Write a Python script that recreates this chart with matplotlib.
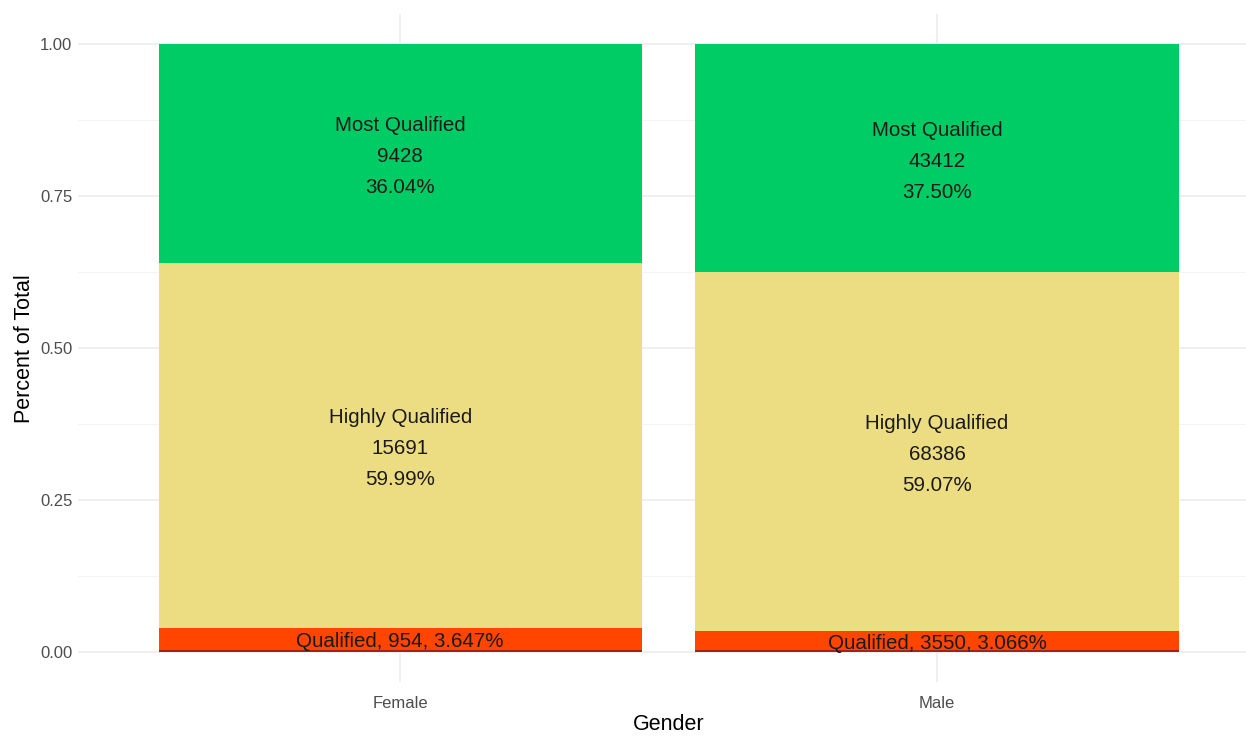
import numpy as np
import matplotlib
matplotlib.use("Agg")
import matplotlib.pyplot as plt

plt.rcParams['font.family'] = ['Liberation Sans', 'DejaVu Sans']

genders = ['Female', 'Male']
# stacked from bottom to top
levels = ['Not Qualified', 'Qualified', 'Highly Qualified', 'Most Qualified']
counts = {
    'Not Qualified': [85, 422],
    'Qualified': [954, 3550],
    'Highly Qualified': [15691, 68386],
    'Most Qualified': [9428, 43412],
}
pct_labels = {
    'Qualified': ['3.647%', '3.066%'],
    'Highly Qualified': ['59.99%', '59.07%'],
    'Most Qualified': ['36.04%', '37.50%'],
}
colors = {
    'Not Qualified': '#a3221c',
    'Qualified': '#ff4500',
    'Highly Qualified': '#eddd82',
    'Most Qualified': '#00cc66',
}

totals = np.sum([counts[k] for k in levels], axis=0)
x = np.arange(1, len(genders) + 1)

fig = plt.figure(figsize=(12.46, 7.36), dpi=100)
ax = fig.add_axes([0.0626, 0.073, 0.948, 0.908])

bottom = np.zeros(len(genders))
for lev in levels:
    frac = np.array(counts[lev]) / totals
    ax.bar(x, frac, bottom=bottom, width=0.9, color=colors[lev], zorder=2)
    for i in range(len(genders)):
        mid = bottom[i] + frac[i] / 2 - 0.005
        if lev == 'Qualified':
            ax.text(x[i], mid, f"{lev}, {counts[lev][i]}, {pct_labels[lev][i]}",
                    ha='center', va='center', fontsize=14.8, color='#1a1a1a', zorder=3)
        elif lev in pct_labels:
            ax.text(x[i], mid, f"{lev}\n{counts[lev][i]}\n{pct_labels[lev][i]}",
                    ha='center', va='center', fontsize=14.8, color='#1a1a1a',
                    linespacing=1.8, zorder=3)
    bottom += frac

ax.set_xlim(0.4, 2.6)
ax.set_ylim(-0.05, 1.05)
ax.set_yticks([0, 0.25, 0.5, 0.75, 1.0])
ax.set_yticklabels(['0.00', '0.25', '0.50', '0.75', '1.00'])
ax.set_yticks([0.125, 0.375, 0.625, 0.875], minor=True)
ax.set_xticks(x)
ax.set_xticklabels(genders)
ax.grid(True, which='major', color='#ebebeb', linewidth=1.1, zorder=0)
ax.grid(True, which='minor', axis='y', color='#f2f2f2', linewidth=0.6, zorder=0)
ax.tick_params(which='both', length=0, labelsize=12, labelcolor='#4d4d4d')
ax.tick_params(axis='x', pad=10)
ax.tick_params(axis='y', pad=4)
for s in ax.spines.values():
    s.set_visible(False)
ax.set_xlabel('Gender', fontsize=15.5, labelpad=2)
ax.set_ylabel('Percent of Total', fontsize=15.5, labelpad=4)

fig.savefig('out.png', dpi=100)
